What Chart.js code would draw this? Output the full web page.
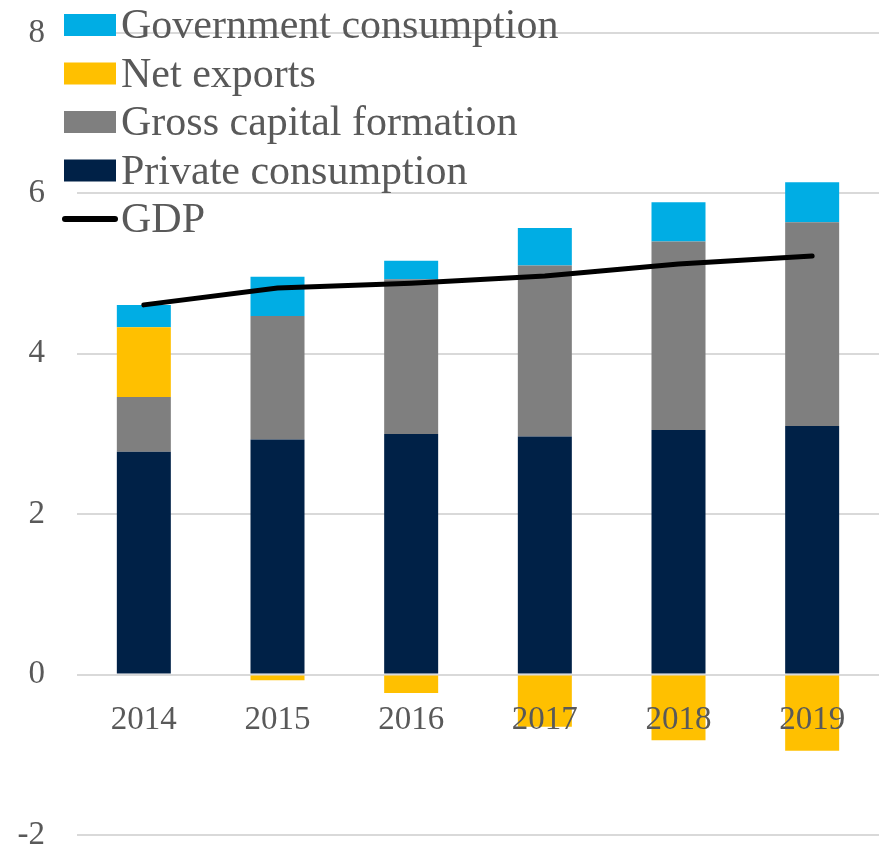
<!DOCTYPE html>
<html>
<head>
<meta charset="utf-8">
<script src="https://cdn.jsdelivr.net/npm/chart.js@4.4.0/dist/chart.umd.min.js"></script>
<style>
  html, body { margin: 0; padding: 0; background: #fff; overflow: hidden; }
  #wrap { width: 879px; height: 848px; }
</style>
</head>
<body>
<div id="wrap"><canvas id="chart" width="879" height="848"></canvas></div>
<script>
// values
const years = ['2014', '2015', '2016', '2017', '2018', '2019'];
const privateConsumption = [2.78, 2.93, 3.00, 2.97, 3.05, 3.10];
const grossCapital = [0.68, 1.54, 1.93, 2.13, 2.35, 2.54];
const netExports = [0.87, -0.07, -0.23, -0.65, -0.82, -0.95];
const govConsumption = [0.28, 0.49, 0.23, 0.47, 0.49, 0.50];
const gdp = [4.61, 4.82, 4.88, 4.97, 5.12, 5.22];
const yTicks = [-2, 0, 2, 4, 6, 8];

const textColor = '#595959';
const serif = '"Liberation Serif", "DejaVu Serif", serif';

// legend drawn at the top left, over the plot, in reverse stack order
const legendOrder = [3, 2, 1, 0, 4];
const cornerLegend = {
    id: 'cornerLegend',
    afterDraw(chart) {
        const ctx = chart.ctx;
        ctx.save();
        ctx.font = '42px ' + serif;
        ctx.textBaseline = 'alphabetic';
        legendOrder.forEach(function (idx, row) {
            const ds = chart.data.datasets[idx];
            const cy = 25 + row * 48.5;
            if (ds.type === 'line') {
                ctx.strokeStyle = ds.borderColor;
                ctx.lineWidth = 6;
                ctx.lineCap = 'round';
                ctx.beginPath();
                ctx.moveTo(65, cy);
                ctx.lineTo(115, cy);
                ctx.stroke();
            } else {
                ctx.fillStyle = ds.backgroundColor;
                ctx.fillRect(64, cy - 11, 52, 22);
            }
            ctx.fillStyle = textColor;
            ctx.fillText(ds.label, 121, cy + 13);
        });
        ctx.restore();
    }
};

const barStyle = { stack: 'gdp-parts', order: 1, categoryPercentage: 1, barPercentage: 0.404, borderWidth: 0 };

new Chart(document.getElementById('chart'), {
    data: {
        labels: years,
        datasets: [
            { type: 'bar', label: 'Private consumption', data: privateConsumption, backgroundColor: '#002147', ...barStyle },
            { type: 'bar', label: 'Gross capital formation', data: grossCapital, backgroundColor: '#7f7f7f', ...barStyle },
            { type: 'bar', label: 'Net exports', data: netExports, backgroundColor: '#ffc000', ...barStyle },
            { type: 'bar', label: 'Government consumption', data: govConsumption, backgroundColor: '#00ade4', ...barStyle },
            {
                type: 'line', label: 'GDP', data: gdp, stack: 'gdp-line', order: 0,
                borderColor: '#000000', borderWidth: 5, borderCapStyle: 'round',
                pointRadius: 0, tension: 0, fill: false,
            },
        ],
    },
    options: {
        responsive: false,
        animation: false,
        layout: { padding: { top: 33, bottom: 13, left: 0, right: 0 } },
        plugins: {
            legend: { display: false },
            tooltip: { enabled: false },
        },
        scales: {
            x: {
                position: { y: 0 },
                stacked: true,
                grid: { display: false, drawTicks: false },
                border: { display: false },
                ticks: {
                    z: 1, // year labels sit on top of the negative bars
                    color: textColor,
                    padding: 26,
                    font: { family: serif, size: 33 },
                },
            },
            y: {
                stacked: true,
                min: -2,
                max: 8,
                afterBuildTicks: function (scale) {
                    scale.ticks = yTicks.map(function (v) { return { value: v }; });
                },
                afterFit: function (scale) {
                    scale.width = 77;
                    scale.paddingTop = 0;
                    scale.paddingBottom = 0;
                },
                grid: { color: '#d9d9d9', lineWidth: 2, drawTicks: false },
                border: { display: false },
                ticks: {
                    color: textColor,
                    padding: 32,
                    font: { family: serif, size: 33 },
                },
            },
        },
    },
    plugins: [cornerLegend],
});
</script>
</body>
</html>
